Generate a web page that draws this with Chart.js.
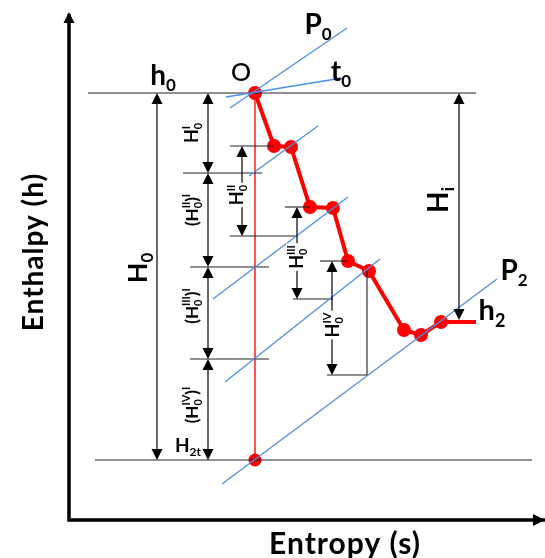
<!DOCTYPE html>
<html>
<head>
<meta charset="utf-8">
<script src="https://cdn.jsdelivr.net/npm/chart.js@4.4.1/dist/chart.umd.min.js"></script>
<style>
  html, body { margin: 0; padding: 0; background: #fff; }
  #hs { display: block; }
</style>
</head>
<body>
<canvas id="hs" width="545" height="558"></canvas>
<script>
// schematic h-s diagram, units are diagram units (s to the right, h downward)
// expansion line through the stages
const processS = [255, 274, 291, 310, 333, 348, 369, 404, 421, 441, 476];
const processH = [93, 146, 147, 207, 208, 261, 271, 330, 335, 322, 322];

// isentropic line from state O down to h2t
const isentropeS = [255, 255];
const isentropeH = [93, 460];

// isobars / isotherm (blue), [s1, h1, s2, h2]
const isobars = [
  [230, 108, 347, 28],   // P0
  [226, 97, 342, 78],    // t0
  [249, 176, 318, 126],
  [213, 299, 348, 197],
  [225, 382, 380, 259],
  [222, 484, 497, 279]   // P2
];

// thin black reference lines, [s1, h1, s2, h2]
const refLines = [
  [88, 93, 476, 93],
  [95, 460, 532, 460],
  [183, 173, 262, 173],
  [190, 267, 269, 267],
  [190, 359, 269, 359],
  [230, 146, 274, 146],
  [230, 236, 297, 236],
  [285, 207, 310, 207],
  [293, 299, 333, 299],
  [320, 261, 348, 261],
  [327, 375, 367, 375],
  [367, 271, 367, 375]
];

// dimension arrows, [s, hTop, hBottom]
const dims = [
  [157, 93, 460],
  [208, 93, 173],
  [208, 173, 267],
  [208, 267, 359],
  [208, 359, 460],
  [242, 146, 236],
  [297, 207, 299],
  [332, 261, 375],
  [459, 93, 320]
];

// frame axes
const axisS = [69, 69, 545];
const axisH = [14, 520, 520];

const FONT = 'Lato, "Open Sans", sans-serif';

// text labels: parts are [text, kind] with kind '' normal, 'b' subscript, 'p' superscript
const labels = [
  { s: 318, h: 24, size: 28, parts: [['P', ''], ['0', 'b']] },
  { s: 341, h: 71, size: 28, parts: [['t', ''], ['0', 'b']] },
  { s: 241, h: 72, size: 25, weight: '500', parts: [['O', '']] },
  { s: 163, h: 75, size: 28, parts: [['h', ''], ['0', 'b']] },
  { s: 514, h: 270, size: 28, parts: [['P', ''], ['2', 'b']] },
  { s: 492, h: 310, size: 29, parts: [['h', ''], ['2', 'b']] },
  { s: 137, h: 268, size: 27, rot: true, parts: [['H', ''], ['0', 'b']] },
  { s: 438, h: 200, size: 28, rot: true, parts: [['H', ''], ['i', 'b']] },
  { s: 192, h: 133, size: 18, rot: true, parts: [['H', ''], ['0', 'b'], ['I', 'p']] },
  { s: 192, h: 210, size: 17, rot: true, parts: [['(', ''], ['H', ''], ['0', 'b'], ['II', 'p'], [')', ''], ['I', 'p']] },
  { s: 192, h: 306, size: 17, rot: true, parts: [['(', ''], ['H', ''], ['0', 'b'], ['III', 'p'], [')', ''], ['I', 'p']] },
  { s: 192, h: 405, size: 17, rot: true, parts: [['(', ''], ['H', ''], ['0', 'b'], ['IV', 'p'], [')', ''], ['I', 'p']] },
  { s: 237, h: 195, size: 18, rot: true, bg: true, parts: [['H', ''], ['0', 'b'], ['II', 'p']] },
  { s: 297, h: 257, size: 18, rot: true, bg: true, parts: [['H', ''], ['0', 'b'], ['III', 'p']] },
  { s: 333, h: 325, size: 18, rot: true, bg: true, parts: [['H', ''], ['0', 'b'], ['IV', 'p']] },
  { s: 188, h: 445, size: 19, parts: [['H', ''], ['2t', 'b']] },
  { s: 345, h: 543, size: 30, spacing: 1, parts: [['Entropy (s)', '']] },
  { s: 33, h: 252, size: 28, spacing: 1, rot: true, parts: [['Enthalpy (h)', '']] }
];

function pts(sArr, hArr) {
  return sArr.map((s, i) => ({ x: s, y: hArr[i] }));
}

function seg(r) {
  return [{ x: r[0], y: r[1] }, { x: r[2], y: r[3] }];
}

const datasets = [];
isobars.forEach(r => datasets.push({
  data: seg(r), borderColor: '#4a8fe6', borderWidth: 1.3, pointRadius: 0
}));
refLines.forEach(r => datasets.push({
  data: seg(r), borderColor: '#222', borderWidth: 1.1, pointRadius: 0
}));
datasets.push({
  data: pts(axisS, axisH), borderColor: '#000', borderWidth: 3.5, pointRadius: 0
});
datasets.push({
  data: pts(isentropeS, isentropeH), borderColor: '#ff1a1a', borderWidth: 1.5,
  pointRadius: 6.5, pointBackgroundColor: '#ff0000', pointBorderWidth: 0
});
datasets.push({
  data: pts(processS, processH), borderColor: '#ff0000', borderWidth: 4,
  pointRadius: processS.map((s, i) => i === processS.length - 1 ? 0 : 7),
  pointBackgroundColor: '#ff0000', pointBorderWidth: 0
});

function arrowHead(ctx, x, y, dir) {
  // dir: 1 points down, -1 points up, 2 points right
  ctx.beginPath();
  if (dir === 2) {
    ctx.moveTo(x, y);
    ctx.lineTo(x - 12, y - 6);
    ctx.lineTo(x - 12, y + 6);
  } else {
    ctx.moveTo(x, y);
    ctx.lineTo(x - 5.5, y - 11 * dir);
    ctx.lineTo(x + 5.5, y - 11 * dir);
  }
  ctx.closePath();
  ctx.fill();
}

function layoutParts(ctx, lab) {
  const size = lab.size, small = Math.round(size * 0.62);
  const weight = lab.weight || 'bold';
  ctx.letterSpacing = (lab.spacing || 0) + 'px';
  let x = 0, prevStart = 0, prevKind = '', prevW = 0;
  const out = [];
  lab.parts.forEach(([t, k]) => {
    const fs = k ? small : size;
    ctx.font = weight + ' ' + fs + 'px ' + FONT;
    const w = ctx.measureText(t).width;
    let start = x;
    if (k === 'p' && prevKind === 'b') {
      start = prevStart;
      x = Math.max(prevStart + prevW, start + w);
    } else {
      x = start + w;
    }
    const dy = k === 'b' ? size * 0.22 : (k === 'p' ? -size * 0.45 : 0);
    out.push({ t, x: start, dy, font: ctx.font });
    prevStart = start; prevKind = k; prevW = w;
  });
  return { items: out, width: x };
}

const annot = {
  id: 'annot',
  afterDatasetsDraw(chart) {
    const ctx = chart.ctx;
    const xs = chart.scales.x, ys = chart.scales.y;
    const px = v => xs.getPixelForValue(v);
    const py = v => ys.getPixelForValue(v);
    ctx.save();
    ctx.fillStyle = '#000';
    // axis arrows
    arrowHead(ctx, px(axisS[0]), py(axisH[0]) - 2, -1);
    arrowHead(ctx, px(axisS[2]), py(axisH[2]), 2);

    // dimension arrows
    ctx.strokeStyle = '#000';
    ctx.lineWidth = 1.2;
    dims.forEach(([s, h1, h2]) => {
      const x = px(s), y1 = py(h1), y2 = py(h2);
      ctx.beginPath();
      ctx.moveTo(x, y1 + 4);
      ctx.lineTo(x, y2 - 4);
      ctx.stroke();
      arrowHead(ctx, x, y1, -1);
      arrowHead(ctx, x, y2, 1);
    });

    // labels
    labels.forEach(lab => {
      ctx.save();
      const L = layoutParts(ctx, lab);
      ctx.translate(px(lab.s), py(lab.h));
      if (lab.rot) ctx.rotate(-Math.PI / 2);
      const x0 = -L.width / 2, base = lab.size * 0.36;
      if (lab.bg) {
        ctx.fillStyle = '#fff';
        ctx.fillRect(x0 - 2, -lab.size * 0.6, L.width + 4, lab.size * 1.1);
      }
      ctx.fillStyle = '#000';
      ctx.textBaseline = 'alphabetic';
      L.items.forEach(it => {
        ctx.font = it.font;
        ctx.fillText(it.t, x0 + it.x, base + it.dy);
      });
      ctx.restore();
    });
    ctx.restore();
  }
};

new Chart(document.getElementById('hs'), {
  type: 'scatter',
  data: { datasets },
  options: {
    responsive: false,
    animation: false,
    layout: { padding: 0, autoPadding: false },
    showLine: true,
    plugins: { legend: { display: false }, tooltip: { enabled: false } },
    scales: {
      x: { type: 'linear', min: 0, max: 545, display: false },
      y: { type: 'linear', min: 0, max: 558, reverse: true, display: false }
    },
    elements: { line: { tension: 0 } }
  },
  plugins: [annot]
});
</script>
</body>
</html>
